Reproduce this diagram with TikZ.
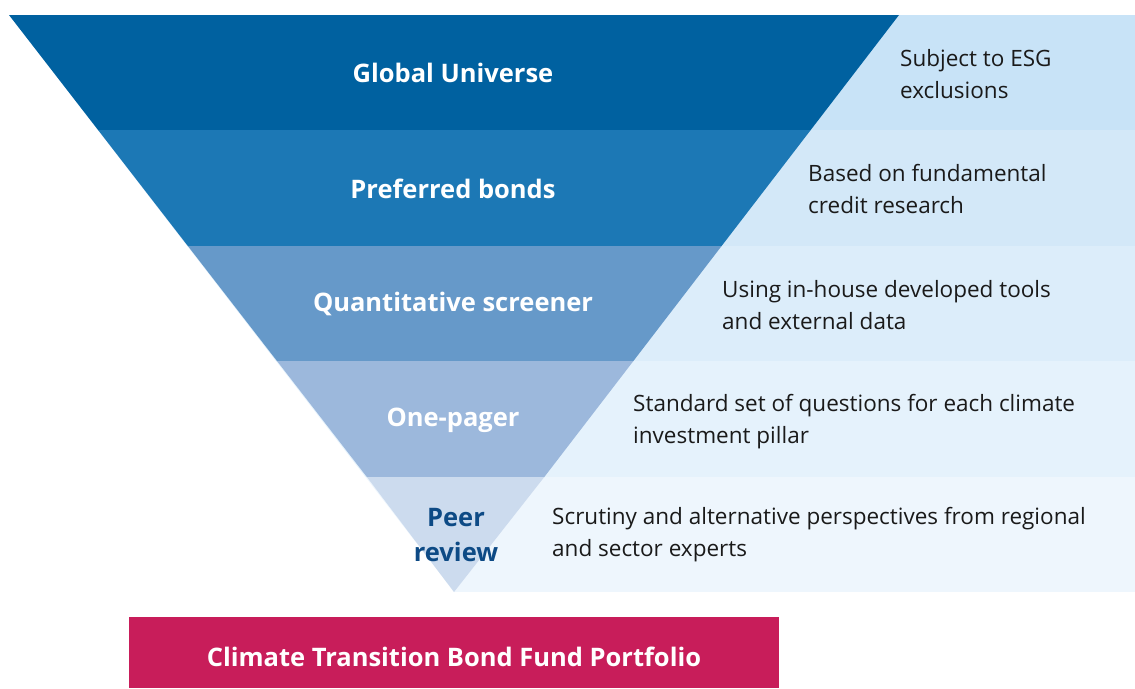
\documentclass[tikz,border=0pt]{standalone}
\usepackage{fontspec}
\setmainfont{Open Sans}
\definecolor{b1}{HTML}{0061A0}
\definecolor{b2}{HTML}{1C78B5}
\definecolor{b3}{HTML}{6699C9}
\definecolor{b4}{HTML}{9CB8DC}
\definecolor{b5}{HTML}{CCDBEE}
\definecolor{p1}{HTML}{C8E3F7}
\definecolor{p2}{HTML}{D3E8F8}
\definecolor{p3}{HTML}{DCEDFA}
\definecolor{p4}{HTML}{E5F2FC}
\definecolor{p5}{HTML}{EEF6FD}
\definecolor{mag}{HTML}{C81D5A}
\definecolor{darkblue}{HTML}{0D4A85}
\definecolor{txt}{HTML}{1A1A1A}
\tikzset{
  lbl/.style={font=\fontsize{25.5}{32}\selectfont\bfseries, text=white, align=center},
  desc/.style={font=\fontsize{22.5}{32}\selectfont, text=txt, align=left, anchor=west, inner sep=0pt},
}
\begin{document}
\begin{tikzpicture}[x=1pt,y=-1pt]
\useasboundingbox (0,0) rectangle (1135,688);
% right panels
\fill[p1] (0,15) rectangle (1135,130);
\fill[p2] (0,130) rectangle (1135,246);
\fill[p3] (0,246) rectangle (1135,361);
\fill[p4] (0,361) rectangle (1135,477);
\fill[p5] (0,477) rectangle (1135,592);
% white left mask
\fill[white] (0,14) -- (9,15) -- (454,592) -- (0,592) -- cycle;
\fill[white] (-1,14) rectangle (9,593);
% funnel bands
\fill[b1] (9,15) -- (899,15) -- (810.7,130) -- (98.1,130) -- cycle;
\fill[b2] (98.1,130) -- (810.7,130) -- (721.6,246) -- (187.9,246) -- cycle;
\fill[b3] (187.9,246) -- (721.6,246) -- (633.4,361) -- (277.0,361) -- cycle;
\fill[b4] (277.0,361) -- (633.4,361) -- (544.3,477) -- (366.9,477) -- cycle;
\fill[b5] (366.9,477) -- (544.3,477) -- (454,592) -- cycle;
% labels
\node[lbl] (l1) at (453,73) {Global Universe};
\node[lbl] (l2) at (453,189) {Preferred bonds};
\node[lbl] (l3) at (453,304) {Quantitative screener};
\node[lbl] (l4) at (453,420) {One-pager};
\node[lbl, text=darkblue, font=\fontsize{25.5}{35}\selectfont\bfseries] (l5) at (456,535) {Peer\\review};
% descriptions
\node[desc] (d1) at (900,74) {Subject to ESG\\exclusions};
\node[desc] (d2) at (808,189) {Based on fundamental\\credit research};
\node[desc] (d3) at (722,305) {Using in-house developed tools\\and external data};
\node[desc] (d4) at (633,422) {Standard set of questions for each climate\\investment pillar};
\node[desc] (d5) at (552,535) {Scrutiny and alternative perspectives from regional\\and sector experts};
% bottom box
\fill[mag] (129,617) rectangle (779,688);
\node[font=\fontsize{25.5}{30}\selectfont\bfseries, text=white] (port) at (454,657) {Climate Transition Bond Fund Portfolio};
\end{tikzpicture}
\end{document}
